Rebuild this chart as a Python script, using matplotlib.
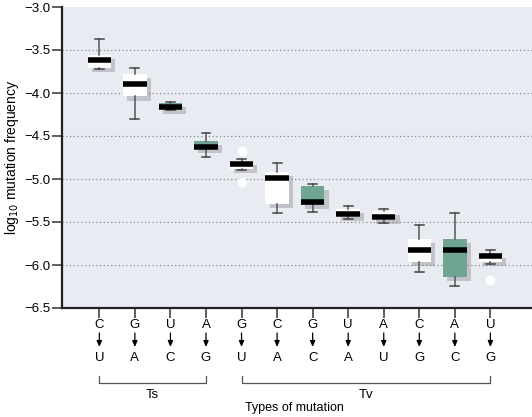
import numpy as np
import matplotlib.pyplot as plt
import matplotlib.patheffects as pe
from matplotlib.transforms import blended_transform_factory

plt.rcParams["font.family"] = ["Liberation Sans", "DejaVu Sans"]

# ── data (log10 mutation frequency) ─────────────────────────────────────────
from_base = ["C", "G", "U", "A", "G", "C", "G", "U", "A", "C", "A", "U"]
to_base   = ["U", "A", "C", "G", "U", "A", "C", "A", "U", "G", "C", "G"]
whislo = [-3.72, -4.30, -4.20, -4.74, -4.90, -5.39, -5.38, -5.47, -5.515, -6.085, -6.24, -5.99]
q1     = [-3.71, -4.04, -4.19, -4.655, -4.88, -5.29, -5.30, -5.44, -5.48, -5.96, -6.14, -5.96]
med    = [-3.62, -3.90, -4.16, -4.63, -4.82, -4.99, -5.27, -5.41, -5.44, -5.82, -5.83, -5.90]
q3     = [-3.56, -3.78, -4.12, -4.56, -4.79, -4.915, -5.08, -5.35, -5.37, -5.70, -5.70, -5.87]
whishi = [-3.37, -3.71, -4.11, -4.46, -4.77, -4.81, -5.06, -5.31, -5.345, -5.54, -5.40, -5.83]
fliers = [[], [], [], [], [-4.67, -5.03], [], [], [], [], [], [], [-6.18]]
green  = [False, False, True, True, False, False, True, False, False, False, True, False]

groups = [("Ts", 1, 4), ("Tv", 5, 12)]

GREEN = "#70a593"
BG    = "#e9ebf3"

fig = plt.figure(figsize=(5.32, 4.17), dpi=100)
ax = fig.add_axes([62 / 532, 1 - 308 / 417, 470 / 532, 301 / 417])
ax.set_facecolor(BG)

stats = []
for i in range(len(med)):
    stats.append({"whislo": whislo[i], "q1": q1[i], "med": med[i], "q3": q3[i],
                  "whishi": whishi[i], "fliers": fliers[i]})

pos = np.arange(1, len(med) + 1)
shadow = [pe.SimplePatchShadow(offset=(3, -3), shadow_rgbFace="#7a7a80", alpha=0.35), pe.Normal()]
bp = ax.bxp(stats, positions=pos, widths=0.66, patch_artist=True,
            boxprops=dict(edgecolor="none", linewidth=0),
            medianprops=dict(color="black", linewidth=4, solid_capstyle="butt"),
            whiskerprops=dict(color="#555555", linewidth=1.1),
            capprops=dict(color="#444444", linewidth=1.1),
            flierprops=dict(marker="o", markerfacecolor="white", markeredgecolor="none",
                            markersize=7),
            capwidths=0.25, zorder=3)
for box, g in zip(bp["boxes"], green):
    box.set_facecolor(GREEN if g else "white")
    box.set_path_effects(shadow)
for m in bp["medians"]:
    m.set_zorder(4)

ax.set_xlim(-0.05, 13.17)
ax.set_ylim(-6.5, -3.0)
ax.set_yticks(np.arange(-6.5, -2.99, 0.5))
ax.set_yticklabels([f"\u2212{abs(v):.1f}" for v in np.arange(-6.5, -2.99, 0.5)])
for y in np.arange(-6.0, -3.4, 0.5):
    ax.axhline(y, color="#8a8a8a", linewidth=0.9, linestyle=(0, (1, 2)), zorder=1)

ax.set_xticks(pos)
ax.set_xticklabels([])
ax.tick_params(axis="both", direction="out", length=7, width=1.1, color="#333333")
ax.tick_params(axis="y", labelsize=9.5, pad=1)
for s in ["top", "right"]:
    ax.spines[s].set_visible(False)
for s in ["left", "bottom"]:
    ax.spines[s].set_linewidth(1.6)
    ax.spines[s].set_color("#222222")

ax.set_ylabel("log$_{10}$ mutation frequency", fontsize=10, labelpad=3)

# ── x labels: base change with arrow ─────────────────────────────────────────
tr = blended_transform_factory(ax.transData, fig.transFigure)
def fy(px):
    return 1 - px / 417

for x, a, b in zip(pos, from_base, to_base):
    ax.text(x, fy(325), a, transform=tr, ha="center", va="center", fontsize=9.5)
    ax.text(x, fy(358), b, transform=tr, ha="center", va="center", fontsize=9.5)
    ax.annotate("", xy=(x, fy(347)), xytext=(x, fy(333)), xycoords=tr, textcoords=tr,
                arrowprops=dict(arrowstyle="-|>,head_length=0.35,head_width=0.15",
                                color="black", linewidth=0.9, shrinkA=0, shrinkB=0),
                annotation_clip=False)

for name, lo, hi in groups:
    ax.plot([lo, lo, hi, hi], [fy(376), fy(383), fy(383), fy(376)], transform=tr,
            color="#555555", linewidth=0.9, clip_on=False)
    ax.text((lo + hi) / 2, fy(395), name, transform=tr, ha="center", va="center", fontsize=9.5)

ax.text(6.5, fy(408), "Types of mutation", transform=tr, ha="center", va="center", fontsize=9)

fig.savefig("out.png", dpi=100)
